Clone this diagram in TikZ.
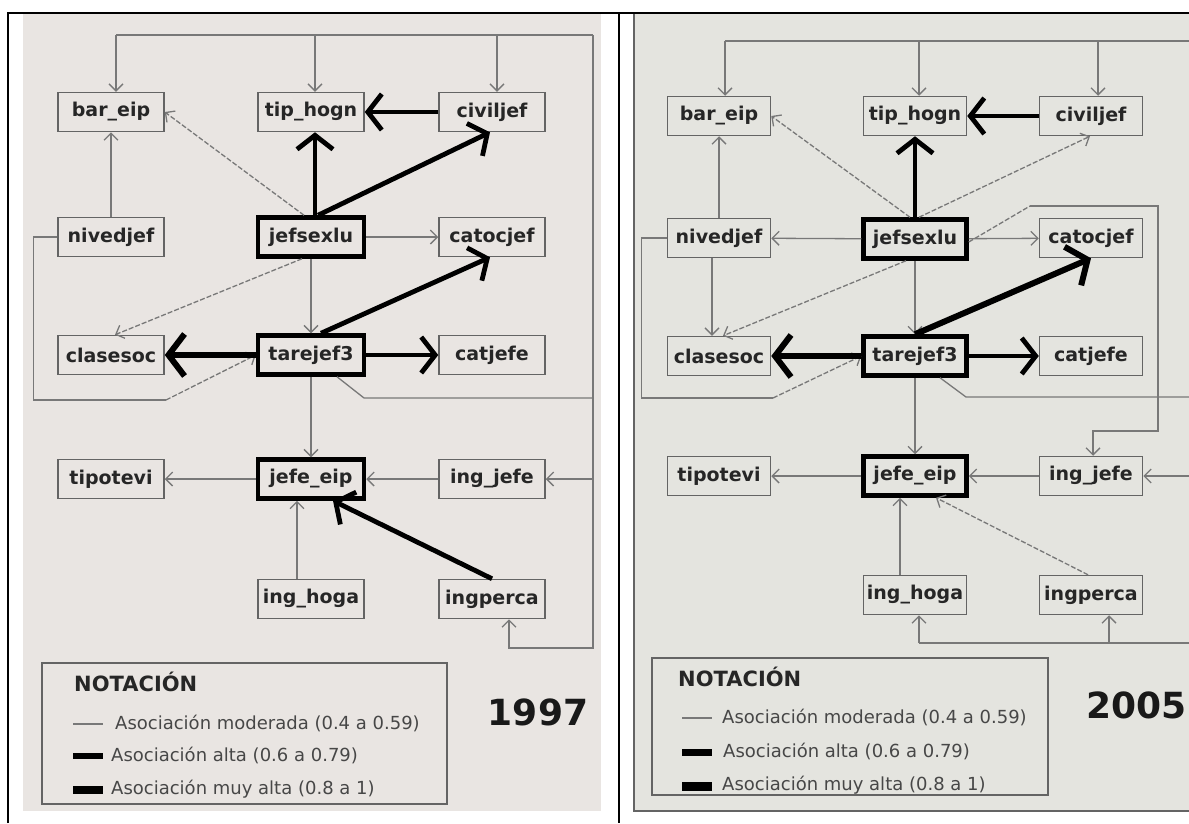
\documentclass[tikz,border=0pt]{standalone}
\usepackage{fontspec}
\setmainfont{DejaVu Sans}
\usetikzlibrary{arrows.meta}
\definecolor{leftbg}{RGB}{233,229,226}
\definecolor{rightbg}{RGB}{228,228,223}
\definecolor{thingray}{RGB}{120,120,120}
\definecolor{boxgray}{RGB}{100,100,100}

\begin{document}
\begin{tikzpicture}[x=1pt,y=-1pt,
    box/.style={draw=boxgray,line width=1.5pt,minimum width=106pt,minimum height=39pt,inner sep=0pt,
      text=black!85,font=\bfseries\fontsize{19}{21}\selectfont},
    keybox/.style={box,draw=black,line width=4.5pt},
    wire/.style={draw=thingray,line width=1.3pt},
    mod/.style={wire,-{Straight Barb[length=7pt,width=14pt]}},
    moddash/.style={mod,dash pattern=on 5pt off 2pt},
    alta/.style={draw=black,line width=4.8pt,-{Straight Barb[length=14pt,width=36pt]}},
    muyalta/.style={draw=black,line width=6pt,-{Straight Barb[length=16pt,width=42pt]}},
    legtxt/.style={anchor=west,inner sep=0pt,text=black!72,font=\fontsize{18}{20}\selectfont},
    legtitle/.style={anchor=west,inner sep=0pt,text=black!85,font=\bfseries\fontsize{21}{23}\selectfont},
    year/.style={inner sep=0pt,text=black!90,font=\bfseries\fontsize{36}{38}\selectfont}]
  \useasboundingbox (0,0) rectangle (1189,823);
  \fill[leftbg] (23,14) rectangle (601,811);
  \fill[rightbg] (634,14) rectangle (1189,811);
  \draw[boxgray,line width=1.5pt] (634,14) -- (634,811) -- (1189,811);
  \draw[line width=2pt] (8,823) -- (8,13) -- (1189,13) (619,13) -- (619,823);

  % 1997
  \foreach \n/\x/\y/\t in {bar/111/112/bar\_eip, tip/311/112/tip\_hogn, civ/492/112/civiljef,
      niv/111/237/nivedjef, cat/492/237/catocjef, cla/111/355/clasesoc, cje/492/355/catjefe,
      tpv/111/479/tipotevi, ing/492/479/ing\_jefe, hog/311/599/ing\_hoga, per/492/599/ingperca}
    \node[box] (L\n) at (\x,\y) {\t};
  \foreach \n/\x/\y/\t in {jef/311/237/jefsexlu, tar/311/355/tarejef3, eip/311/479/jefe\_eip}
    \node[keybox] (L\n) at (\x,\y) {\t};
  \coordinate (Ltr) at (593,35);
  \coordinate (Lbr) at (593,648);
  \coordinate (Llp) at (166,400);
  \draw[wire] (116,35) -- (Ltr);
  \foreach \x/\n in {116/bar,315/tip,497/civ} \draw[mod] (\x,35) -- (\x,35 |- L\n.north);
  \draw[mod] (Ltr) -- (Lbr) -- (509,648) -- (509,648 |- Lper.south);
  \draw[mod] (Lbr |- Ling.east) -- (Ling.east);
  \draw[wire] ([xshift=26pt]Ltar.south) -- (364,398) -- (593,398);
  \draw[wire] (Lniv.west) -- ++(-24,0) |- (Llp);
  \draw[moddash] (Llp) -- (Ltar.west);
  \draw[mod] (Lniv) -- (Lbar);
  \draw[mod] (Ljef) -- (Lcat);
  \draw[mod] (Ljef) -- (Ltar);
  \draw[mod] (Ltar) -- (Leip);
  \draw[mod] (Leip) -- (Ltpv);
  \draw[mod] (Ling) -- (Leip);
  \draw[mod] ([xshift=-14pt]Lhog.north) -- ([xshift=-14pt]Leip.south);
  \draw[moddash] ([xshift=-7pt]Ljef.north) -- (Lbar.east);
  \draw[moddash] ([xshift=-9pt]Ljef.south) -- ([xshift=4pt]Lcla.north);
  \draw[alta] ([xshift=4pt]Ljef.north) -- ([xshift=4pt]Ltip.south);
  \draw[alta] (Lciv) -- (Ltip);
  \draw[alta] ([xshift=7pt]Ljef.north) -- ([xshift=-2pt]Lciv.south);
  \draw[alta] ([xshift=10pt]Ltar.north) -- ([xshift=-2pt]Lcat.south);
  \draw[muyalta] (Ltar) -- (Lcla);
  \draw[alta] (Ltar) -- (Lcje);
  \draw[alta] (Lper.north) -- ([xshift=22pt]Leip.south);
  \draw[boxgray,line width=1.3pt] (42,663) rectangle (447,804);
  \node[legtitle] (Lnot) at (74,682) {NOTACIÓN};
  \draw[wire] (73,724) -- (103,724);
  \node[legtxt] (Lmod) at (115,723) {Asociación moderada (0.4 a 0.59)};
  \draw[black,line width=6pt] (73,756) -- (103,756);
  \node[legtxt] (Lalt) at (111,755) {Asociación alta (0.6 a 0.79)};
  \draw[black,line width=8pt] (73,790) -- (103,790);
  \node[legtxt] (Lmuy) at (111,789) {Asociación muy alta (0.8 a 1)};
  \node[year] (Lyear) at (538,712) {1997};

  % 2005
  \begin{scope}[box/.append style={minimum width=103pt}]
    \clip (634,14) rectangle (1189,823);
    \foreach \n/\x/\y/\t in {bar/719/116/bar\_eip, tip/915/116/tip\_hogn, civ/1091/116/civiljef,
        niv/719/238/nivedjef, cat/1091/238/catocjef, cla/719/356/clasesoc, cje/1091/356/catjefe,
        tpv/719/476/tipotevi, ing/1091/476/ing\_jefe, hog/915/595/ing\_hoga, per/1091/595/ingperca}
      \node[box] (R\n) at (\x,\y) {\t};
    \foreach \n/\x/\y/\t in {jef/915/239/jefsexlu, tar/915/356/tarejef3, eip/915/476/jefe\_eip}
      \node[keybox] (R\n) at (\x,\y) {\t};
    \coordinate (Rlp) at (773,398);
    \coordinate (Rjt) at (1030,206);
    \draw[wire] (725,41) -- (1189,41);
    \foreach \x/\n in {725/bar,919/tip,1098/civ} \draw[mod] (\x,41) -- (\x,41 |- R\n.north);
    \draw[wire] (1189,643) -- (919,643);
    \foreach \x/\n in {919/hog,1109/per} \draw[mod] (\x,643) -- (\x,643 |- R\n.south);
    \draw[mod] (1189,476) -- (Ring.east);
    \draw[wire] ([xshift=25pt]Rtar.south) -- (966,397) -- (1189,397);
    \draw[wire] (Rniv.west) -- ++(-25,0) |- (Rlp);
    \draw[moddash] (Rlp) -- (Rtar.west);
    \draw[wire,dash pattern=on 5pt off 2pt] ([yshift=-3pt]Rjef.east) -- (Rjt);
    \draw[mod] (Rjt) -- (1158,206) -- (1158,431) -- (1093,431) -- (1093,431 |- Ring.north);
    \draw[mod] (Rniv) -- (Rbar);
    \draw[mod] ([xshift=-7pt]Rniv.south) -- ([xshift=-7pt]Rcla.north);
    \draw[mod] (Rjef) -- (Rniv);
    \draw[mod] (Rjef) -- (Rcat);
    \draw[mod] (Rjef) -- (Rtar);
    \draw[mod] (Rtar) -- (Reip);
    \draw[mod] (Reip) -- (Rtpv);
    \draw[mod] (Ring) -- (Reip);
    \draw[mod] ([xshift=-15pt]Rhog.north) -- ([xshift=-15pt]Reip.south);
    \draw[moddash] ([xshift=-3pt]Rper.north) -- ([xshift=21pt]Reip.south);
    \draw[moddash] ([xshift=-5pt]Rjef.north) -- (Rbar.east);
    \draw[moddash] ([xshift=4pt]Rjef.north) -- ([xshift=-1pt]Rciv.south);
    \draw[moddash] ([xshift=-9pt]Rjef.south) -- ([xshift=4pt]Rcla.north);
    \draw[alta] (Rjef) -- (Rtip);
    \draw[alta] (Rciv) -- (Rtip);
    \draw[muyalta] (Rtar.north) -- (Rcat.south);
    \draw[muyalta] (Rtar) -- (Rcla);
    \draw[alta] (Rtar) -- (Rcje);
    \draw[boxgray,line width=1.5pt] (652,658) rectangle (1048,795);
    \node[legtitle] (Rnot) at (678,677) {NOTACIÓN};
    \draw[wire] (682,718) -- (712,718);
    \node[legtxt] (Rmod) at (722,717) {Asociación moderada (0.4 a 0.59)};
    \draw[black,line width=7pt] (682,752) -- (712,752);
    \node[legtxt] (Ralt) at (723,751) {Asociación alta (0.6 a 0.79)};
    \draw[black,line width=9pt] (682,786) -- (712,786);
    \node[legtxt] (Rmuy) at (722,785) {Asociación muy alta (0.8 a 1)};
    \node[year,anchor=east] (Ryear) at (1187,705) {2005};
  \end{scope}
\end{tikzpicture}
\end{document}
